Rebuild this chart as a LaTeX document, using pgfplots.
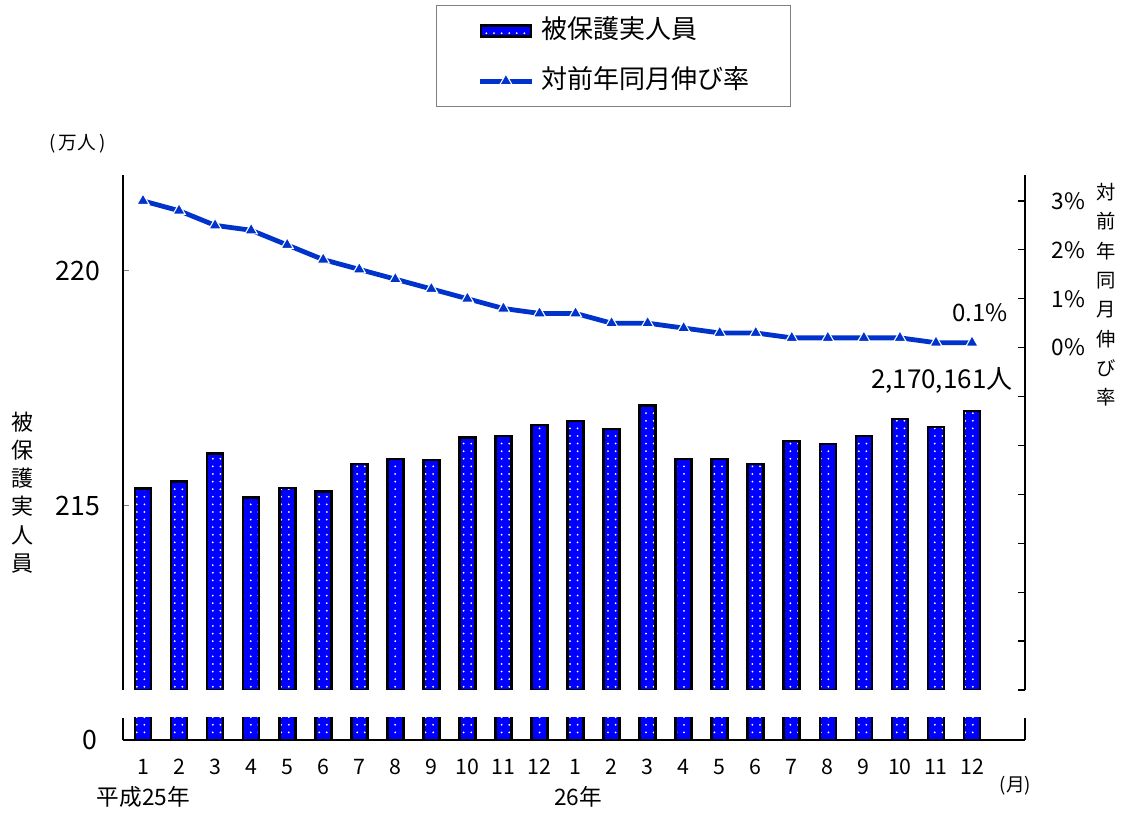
\documentclass[border=0pt]{standalone}
\usepackage{fontspec}
\setmainfont{Noto Sans CJK JP}
\usepackage{pgfplots}
\usepackage{pgfplotstable}
\pgfplotsset{compat=1.18}
\usetikzlibrary{patterns.meta}

\definecolor{barblue}{RGB}{0,0,255}
\definecolor{lineblue}{RGB}{0,51,204}

\pgfplotstableread{
m val
1 215.37
2 215.52
3 216.11
4 215.18
5 215.38
6 215.31
7 215.89
8 216.00
9 215.98
10 216.45
11 216.49
12 216.72
13 216.81
14 216.64
15 217.13
16 216.00
17 216.00
18 215.89
19 216.38
20 216.32
21 216.49
22 216.85
23 216.68
24 217.02
}\bardata

\pgfplotstableread{
m pct
1 3.0
2 2.8
3 2.5
4 2.4
5 2.1
6 1.8
7 1.6
8 1.4
9 1.2
10 1.0
11 0.8
12 0.7
13 0.7
14 0.5
15 0.5
16 0.4
17 0.3
18 0.3
19 0.2
20 0.2
21 0.2
22 0.2
23 0.1
24 0.1
}\ratedata

\tikzset{
  dotbar/.style={fill=barblue, draw=none,
    postaction={pattern={Dots[distance=5.7pt,radius=0.75pt]}, pattern color=white},
    postaction={draw=black, line width=2pt}},
}
\pgfplotsset{
  common/.style={scale only axis, width=676.5pt, xmin=0.445, xmax=25.47, anchor=south west},
}

\begin{document}
\begin{tikzpicture}
% invisible frame for page size (1124x816 px at 0.75pt/px)
\path (-92.25pt,-94.5pt) rectangle (750.75pt,517.5pt);

% upper bar axis (left scale)
\begin{axis}[common, at={(0pt,0pt)}, height=386.25pt,
  ymin=211.085, ymax=222.04,
  axis x line=none, axis y line*=left,
  y axis line style={-, black, line width=1pt},
  ytick={215,220}, yticklabels={215,220},
  tick align=inside, major tick length=4.5pt,
  ytick style={gray, line width=0.8pt},
  yticklabel style={font=\fontsize{20pt}{24pt}\selectfont, anchor=east, inner sep=0pt, xshift=-17pt},
]
\addplot[ybar, bar width=12pt, fill=barblue, draw=none] table[x=m,y=val]{\bardata};
\addplot[ybar, bar width=12pt, draw=none, pattern={Dots[distance=5.7pt,radius=0.75pt]}, pattern color=white] table[x=m,y=val]{\bardata};
\addplot[ybar, bar width=12pt, draw=black, fill=none, line width=2pt] table[x=m,y=val]{\bardata};
\end{axis}

% lower (broken) axis
\begin{axis}[common, at={(0pt,-37.5pt)}, height=16.5pt,
  ymin=0, ymax=1, clip mode=individual,
  axis x line*=bottom, axis y line*=left,
  x axis line style={-, line width=1pt}, y axis line style={-, line width=1pt},
  ytick={0}, yticklabels={0},
  xtick={1,2,3,4,5,6,7,8,9,10,11,12,13,14,15,16,17,18,19,20,21,22,23,24},
  xticklabels={1,2,3,4,5,6,7,8,9,10,11,12,1,2,3,4,5,6,7,8,9,10,11,12},
  major tick length=0pt,
  yticklabel style={font=\fontsize{20pt}{24pt}\selectfont, anchor=east, inner sep=0pt, xshift=-19pt},
  xticklabel style={font=\fontsize{16pt}{19pt}\selectfont, anchor=base, inner sep=0pt, yshift=-26pt},
]
\addplot[ybar, bar width=12pt, fill=barblue, draw=none] table[x=m,y=val]{\bardata};
\addplot[ybar, bar width=12pt, draw=none, pattern={Dots[distance=5.7pt,radius=0.75pt]}, pattern color=white] table[x=m,y=val]{\bardata};
\addplot[ybar, bar width=12pt, draw=black, fill=none, line width=2pt] table[x=m,y=val]{\bardata};
\draw[line width=1.5pt] (rel axis cs:1,0) -- (rel axis cs:1,1);
\draw[line width=1pt] (rel axis cs:1,0) -- ++(-5pt,0pt);
\end{axis}

% line axis (right scale)
\begin{axis}[common, at={(0pt,0pt)}, height=386.25pt,
  ymin=-7, ymax=3.53, clip mode=individual,
  axis x line=none, axis y line*=right,
  y axis line style={-, black, line width=1.5pt},
  ytick={-7,...,3}, yticklabels={,,,,,,,0\%,1\%,2\%,3\%},
  tick align=inside, major tick length=5pt,
  ytick style={black, line width=1pt},
  yticklabel style={font=\fontsize{17pt}{20pt}\selectfont, anchor=west, inner sep=0pt, xshift=20pt},
  legend cell align=left,
  legend style={at={(0.347,1.330)}, anchor=north west, draw=gray, line width=0.8pt, fill=white,
    inner xsep=30.5pt, inner ysep=9.4pt, row sep=18pt, column sep=5.5pt,
    font=\fontsize{19.5pt}{23pt}\selectfont,
    nodes={inner xsep=0pt, inner ysep=0pt, text width=156pt, text height=15pt, text depth=4.5pt, align=left}},
]
\addlegendimage{legend image code/.code={\path[dotbar] (1pt,-4pt) rectangle (38.5pt,4pt);}}
\addlegendentry{被保護実人員}
\addplot[lineblue, line width=3.6pt, mark=triangle*, mark size=5.3pt,
  mark options={fill=lineblue, draw=white, line width=0.8pt},
  legend image code/.code={\draw[mark repeat=2, mark phase=2] plot coordinates {(0pt,0pt) (19.75pt,0pt) (39.5pt,0pt)};}]
  table[x=m,y=pct]{\ratedata};
\addlegendentry{対前年同月伸び率}
\node[font=\fontsize{18pt}{21pt}\selectfont, anchor=base] at (axis cs:24.22,0.53) {0.1\%};
\node[font=\fontsize{19.5pt}{23pt}\selectfont, anchor=base] at (axis cs:23.16,-0.83) {2,170,161人};
\end{axis}

% titles and annotations
\node[font=\fontsize{14pt}{16pt}\selectfont] at (-34pt,410pt) {(\,万人\,)};
\node[font=\fontsize{16.5pt}{21.2pt}\selectfont, align=center] at (-75.4pt,148.1pt) {被\\保\\護\\実\\人\\員};
\node[font=\fontsize{14.5pt}{22pt}\selectfont, align=center] at (737pt,296.25pt) {対\\前\\年\\同\\月\\伸\\び\\率};
\node[font=\fontsize{17pt}{20pt}\selectfont, anchor=base] at (15.4pt,-87pt) {平成25年};
\node[font=\fontsize{17pt}{20pt}\selectfont, anchor=base] at (341.25pt,-87pt) {26年};
\node[font=\fontsize{14pt}{17pt}\selectfont] at (669.4pt,-72pt) {(月)};
\end{tikzpicture}
\end{document}
